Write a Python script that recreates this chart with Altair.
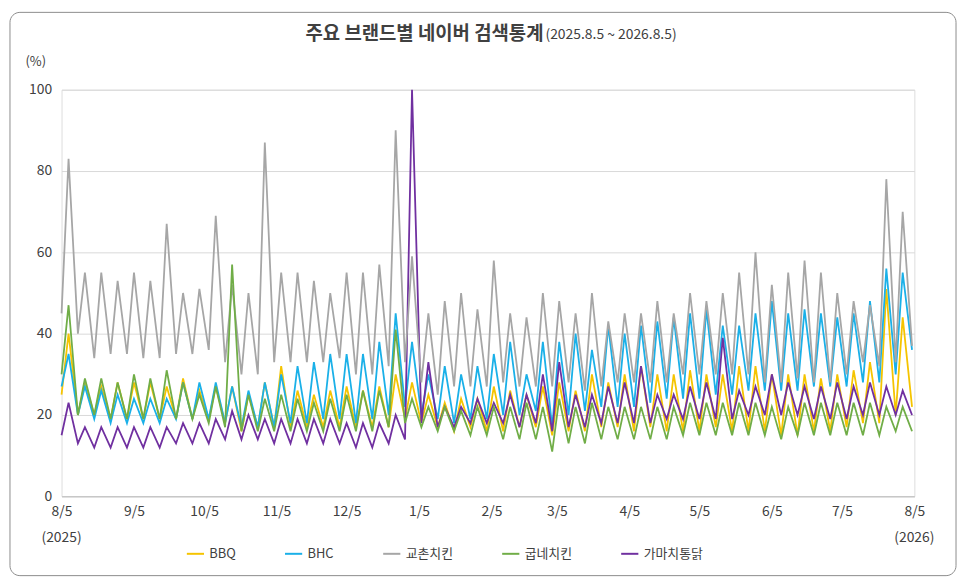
import altair as alt
import pandas as pd

FONT = "Noto Sans CJK KR"
series = ["BBQ", "BHC", "교촌치킨", "굽네치킨", "가마치통닭"]
colors = ["#F5C400", "#1AB0E8", "#A6A6A6", "#70AD47", "#7030A0"]

gray_hi = [83,55,55,53, 55,53,67,50,51, 69,52,50,87, 55,55,53,50,55, 55,57,90,59, 45,48,50,46, 58,45,44,50, 48,45,50,43,45, 45,48,45,50, 48,50,55,60,52, 55,58,55,50, 48,47,78,70]
gray_lo = [45,40,34,35, 35,34,34,35,35, 36,33,30,30, 33,33,33,33,34, 30,30,32,33, 28,25,27,27, 27,28,27,27, 27,28,26,27,28, 28,28,28,30, 30,30,30,30,28, 28,29,28,28, 30,33,32,33, 37]
bhc_hi = [35,27,26,25, 24,24,24,28,28, 28,27,26,28, 30,32,33,35,35, 35,38,45,38, 30,32,30,32, 35,38,30,38, 38,40,36,42,40, 42,43,44,45, 46,42,42,45,48, 45,46,45,44, 45,48,56,55]
bhc_lo = [27,20,19,18, 18,18,18,19,19, 19,18,17,17, 17,18,18,19,19, 18,19,20,22, 20,19,18,19, 19,20,20,21, 17,20,21,22,22, 22,23,24,24, 24,25,25,26,26, 26,26,27,27, 27,28,28,30, 36]
bbq_hi = [40,28,27,28, 28,28,27,29,26, 27,27,25,28, 32,26,25,26,27, 26,27,30,28, 25,23,24,24, 27,26,25,27, 28,26,30,28,30, 32,30,30,31, 30,30,32,32,30, 30,30,29,30, 31,33,51,44]
bbq_lo = [25,20,20,19, 19,19,19,19,19, 19,18,16,17, 17,17,17,17,17, 17,17,17,19, 18,17,16,17, 16,16,17,17, 15,16,16,17,17, 16,17,16,16, 16,17,16,16,16, 15,15,16,16, 17,18,18,20, 22]
green_hi = [47,29,29,28, 30,29,31,28,25, 27,57,25,24, 25,24,23,24,25, 26,26,41,24, 22,22,21,22, 22,22,23,22, 24,22,23,22,22, 22,22,22,23, 23,23,23,23,22, 22,23,23,23, 23,23,22,22]
green_lo = [30,20,20,19, 19,19,19,19,19, 18,17,16,16, 16,16,16,16,16, 16,16,17,18, 17,16,16,15, 15,14,14,14, 11,13,13,14,14, 14,14,14,15, 15,15,15,15,15, 14,15,15,15, 15,15,15,16, 16]
purple_hi = [23,17,17,17, 17,17,17,18,18, 19,21,20,19, 19,19,19,19,18, 18,18,20,100, 33,22,22,24, 23,25,25,30, 33,25,25,27,28, 32,25,25,27, 28,39,26,27,30, 28,27,27,28, 27,28,27,26]
purple_lo = [15,13,12,12, 12,12,12,13,13, 13,14,14,14, 13,13,13,13,13, 12,12,13,14, 18,17,17,18, 18,18,17,18, 16,17,17,18,18, 18,18,19,19, 19,19,19,20,20, 20,20,19,19, 19,20,20,20, 20]

hi = {"BBQ": bbq_hi, "BHC": bhc_hi, "교촌치킨": gray_hi, "굽네치킨": green_hi, "가마치통닭": purple_hi}
lo = {"BBQ": bbq_lo, "BHC": bhc_lo, "교촌치킨": gray_lo, "굽네치킨": green_lo, "가마치통닭": purple_lo}

start = pd.Timestamp("2025-08-05")
rows = []
for s in series:
    for k, v in enumerate(lo[s]):
        d = start + pd.Timedelta(days=7 * k)
        if d > pd.Timestamp("2026-08-05"):
            d = pd.Timestamp("2026-08-05")
        rows.append({"date": d, "value": v, "series": s})
    for k, v in enumerate(hi[s]):
        rows.append({"date": start + pd.Timedelta(days=7 * k + 3), "value": v, "series": s})
df = pd.DataFrame(rows).sort_values(["series", "date"])
df["date"] = df["date"].dt.strftime("%Y-%m-%d")
df["order"] = df["series"].map({s: i for i, s in enumerate(series)})

tick_dates = ["2025-08-05","2025-09-05","2025-10-05","2025-11-05","2025-12-05","2026-01-05",
              "2026-02-05","2026-03-05","2026-04-05","2026-05-05","2026-06-05","2026-07-05","2026-08-05"]
W, H = 860, 410

xs = alt.X("date:T", scale=alt.Scale(domain=["2025-08-05", "2026-08-05"]),
           axis=alt.Axis(values=tick_dates, format="%-m/%-d", title=None, grid=False,
                         labelFontSize=14, labelColor="#404040", labelFont=FONT,
                         domainColor="#BFBFBF", ticks=False, labelPadding=8, labelFlush=False))
ys = alt.Y("value:Q", scale=alt.Scale(domain=[0, 100]),
           axis=alt.Axis(values=[0,20,40,60,80,100], title=None, domain=False, ticks=False,
                         gridColor="#D9D9D9", labelFontSize=14, labelColor="#404040",
                         labelFont=FONT, labelPadding=10))

lines = alt.Chart(df).mark_line(strokeWidth=1.8, interpolate="linear").encode(
    x=xs, y=ys,
    color=alt.Color("series:N", scale=alt.Scale(domain=series, range=colors),
                    legend=alt.Legend(orient="none", legendX=125, legendY=458, direction="horizontal",
                                      title=None, symbolType="stroke", symbolStrokeWidth=2,
                                      symbolSize=300, labelFontSize=13, labelFont=FONT,
                                      labelColor="#404040", columnPadding=45)),
    detail="series:N",
    order="order:Q",
)

border = alt.Chart(pd.DataFrame({"a": [0]})).mark_rect(
    fill=None, stroke="#8C8C8C", strokeWidth=1, cornerRadius=10).encode(
    x=alt.value(-52), x2=alt.value(W + 42), y=alt.value(-78), y2=alt.value(H + 80))

t = pd.DataFrame({"a": [0]})
title1 = alt.Chart(t).mark_text(text="주요 브랜드별 네이버 검색통계", font=FONT, fontSize=19,
                                fontWeight="bold", color="#404040", align="right").encode(
    x=alt.value(486), y=alt.value(-56))
title2 = alt.Chart(t).mark_text(text="(2025.8.5 ~ 2026.8.5)", font=FONT, fontSize=14,
                                color="#404040", align="left").encode(
    x=alt.value(488), y=alt.value(-55))
pct = alt.Chart(t).mark_text(text="(%)", font=FONT, fontSize=13, color="#404040").encode(
    x=alt.value(-26), y=alt.value(-28))
y1 = alt.Chart(t).mark_text(text="(2025)", font=FONT, fontSize=14, color="#404040").encode(
    x=alt.value(0), y=alt.value(H + 42))
y2 = alt.Chart(t).mark_text(text="(2026)", font=FONT, fontSize=14, color="#404040").encode(
    x=alt.value(W), y=alt.value(H + 42))

chart = alt.layer(border, lines, title1, title2, pct, y1, y2).properties(
    width=W, height=H, autosize=alt.AutoSizeParams(type="none"),
    padding={"left": 54, "top": 80, "right": 44, "bottom": 82}
).configure_view(stroke=None).configure(background="white")

chart.save("out.html", embed_options={"renderer": "svg", "actions": False})
